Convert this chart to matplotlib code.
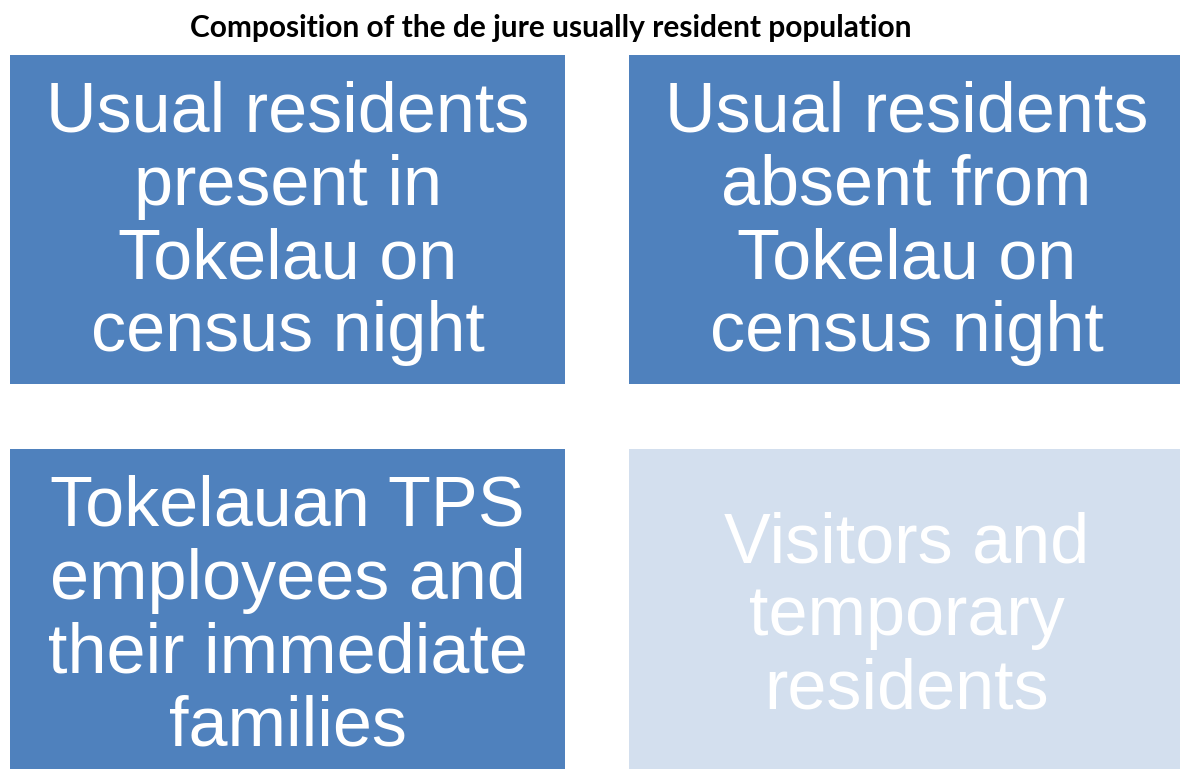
import matplotlib.pyplot as plt
from matplotlib.patches import Rectangle

title = "Composition of the de jure usually resident population"
labels = ["Usual residents\npresent in\nTokelau on\ncensus night",
          "Usual residents\nabsent from\nTokelau on\ncensus night",
          "Tokelauan TPS\nemployees and\ntheir immediate\nfamilies",
          "Visitors and\ntemporary\nresidents"]
included = [True, True, True, False]

dark = "#4f81bd"
light = "#d3dfee"

fig = plt.figure(figsize=(11.8, 7.69), dpi=100)
ax = fig.add_axes([0, 0, 1, 1])
ax.set_xlim(0, 1180)
ax.set_ylim(769, 0)
ax.axis("off")

# 2x2 grid of boxes, right column and bottom row run off the canvas
x0, y0 = 10, 55
w, h = 555, 329
gap_x, gap_y = 64, 65

for i, (lab, inc) in enumerate(zip(labels, included)):
    r, c = divmod(i, 2)
    x = x0 + c * (w + gap_x)
    y = y0 + r * (h + gap_y)
    ax.add_patch(Rectangle((x, y), w, h, facecolor=dark if inc else light,
                           edgecolor="none"))
    ax.text(x + w / 2, y + h / 2 + 4, lab, ha="center", va="center",
            color="white", fontsize=50.5, family="Liberation Sans",
            linespacing=1.14)

fig.text(0.4665, 0.964, title, ha="center", va="center", fontsize=21.5,
         fontweight="bold", family="Lato")

fig.savefig("out.png", dpi=100)
